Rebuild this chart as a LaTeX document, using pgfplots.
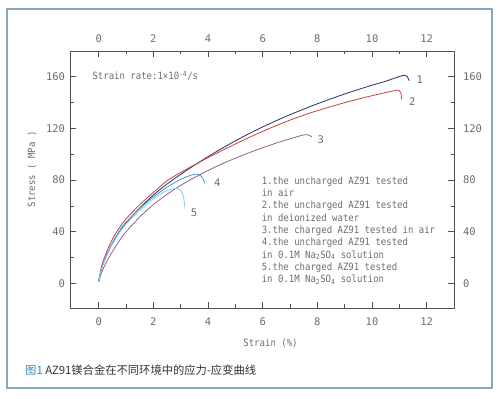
\documentclass[border=0pt]{standalone}
\usepackage{fontspec}
\setmainfont{DejaVu Sans}
\newfontfamily\cf[FakeStretch=0.9]{DejaVu Sans Mono}
\newfontfamily\tf{DejaVu Sans Mono}
\newfontfamily\cjk{Noto Sans CJK SC}
\usepackage{pgfplots}
\pgfplotsset{compat=1.18}
\definecolor{cnavy}{HTML}{2E2D6E}
\definecolor{cred}{HTML}{C2453F}
\definecolor{cpurp}{HTML}{94628F}
\definecolor{cblue}{HTML}{3A9CC8}
\definecolor{clblue}{HTML}{8CCDE6}
\definecolor{tgray}{HTML}{6E6E6E}
\definecolor{agray}{HTML}{505050}
\definecolor{frame}{HTML}{86AABB}
\definecolor{capblue}{HTML}{2F8FB5}
\pgfplotsset{
  base/.style={
    at={(70bp,91bp)}, anchor=south west, scale only axis,
    width=384bp, height=257bp,
    xmin=-1.05, xmax=13, ymin=-19, ymax=180,
    xtick={0,2,...,12}, ytick={0,40,...,160},
    minor xtick={1,3,...,11}, minor ytick={20,60,100,140},
    tick align=inside, tick pos=both,
    major tick length=6bp, minor tick length=3.5bp,
    axis line style={agray, line width=0.8bp},
    every tick/.style={agray, line width=0.8bp},
    /pgf/number format/assume math mode=true,
    ticklabel style={font=\tf\fontsize{10.5bp}{12bp}\selectfont, text=tgray},
  }
}
\begin{document}
\begin{tikzpicture}
\path[use as bounding box] (0,0) rectangle (500bp,399bp);
\fill[white] (0,0) rectangle (500bp,399bp);
\draw[frame, line width=1.8bp] (6.7bp,11bp) rectangle (491.7bp,389.7bp);
\begin{axis}[base,
  xticklabel pos=lower, yticklabel pos=left,
  xticklabel style={yshift=-6bp}, yticklabel style={xshift=-1.5bp},
  clip=false]
\addplot[cnavy, line width=0.8bp, smooth, tension=0.4] coordinates {
(0,1.5) (0.1,11.5) (0.2,17.5) (0.4,27) (0.6,35) (0.8,41.5) (1.0,47) (1.5,58.5) (2.0,68.5) (2.5,77) (3.0,84.5) (3.5,91.5) (4.0,98.2) (4.5,104.5) (5.0,110.4) (5.5,116) (6.0,121.2) (6.5,126.1) (7.0,130.7) (7.5,135) (8.0,139.1) (8.5,143) (9.0,146.7) (9.5,150.2) (10.0,153.5) (10.5,156.6) (10.9,159.5) (11.1,160.9) (11.2,161.2) (11.29,160.3) (11.36,157)};
\addplot[cred, line width=0.8bp, smooth, tension=0.4] coordinates {
(0,1.5) (0.1,13) (0.2,19.5) (0.4,30) (0.6,38) (0.8,44.5) (1.0,50) (1.5,61) (2.0,70.5) (2.5,79.5) (3.0,86) (3.5,91.8) (4.0,97.4) (4.5,102.8) (5.0,108) (5.5,113) (6.0,117.8) (6.5,122.3) (7.0,126.5) (7.5,130.3) (8.0,133.8) (8.5,137) (9.0,140) (9.5,142.8) (10.0,145.4) (10.5,147.8) (10.85,149.4) (10.98,149.6) (11.05,148) (11.09,142.5)};
\addplot[cpurp, line width=0.8bp, smooth, tension=0.4] coordinates {
(0,1.5) (0.1,8) (0.2,13) (0.4,21) (0.6,28) (0.8,34.5) (1.0,40) (1.5,51.5) (2.0,61) (2.5,69) (3.0,76) (3.5,82) (4.0,87.5) (4.5,92.5) (5.0,97) (5.5,101.2) (6.0,105.1) (6.5,108.7) (7.0,112) (7.3,113.9) (7.55,115.2) (7.68,114.9) (7.8,113.5)};
\addplot[cblue, line width=0.8bp, smooth, tension=0.4] coordinates {
(0,1.5) (0.1,11) (0.2,17) (0.4,27) (0.6,35) (0.8,42) (1.0,47.5) (1.5,58) (2.0,67) (2.5,74.5) (2.9,79.5) (3.2,82.5) (3.45,84.2) (3.6,84.6) (3.72,83.6) (3.82,81) (3.88,77.5)};
\addplot[clblue, line width=0.8bp, smooth, tension=0.4] coordinates {
(0,1.5) (0.1,11) (0.2,17) (0.4,26.5) (0.6,34) (0.8,40.5) (1.0,46) (1.5,56.5) (2.0,65.5) (2.4,71) (2.65,73) (2.85,73.6) (2.98,72.5) (3.07,69.5) (3.12,65) (3.16,58)};
\begin{scope}[every node/.style={font=\tf\fontsize{10.5bp}{12bp}\selectfont, text=tgray}]
\node at (axis cs:11.75,158) {1};
\node at (axis cs:11.47,140.7) {2};
\node at (axis cs:8.13,111.5) {3};
\node at (axis cs:4.34,78) {4};
\node at (axis cs:3.49,54.7) {5};
\end{scope}
\node[anchor=north west, align=left, inner sep=0pt, text=tgray,
  font=\cf\fontsize{10bp}{12.3bp}\selectfont] at (axis cs:5.96,82.8)
 {1.the uncharged AZ91 tested\\in air\\2.the uncharged AZ91 tested\\in deionized water\\3.the charged AZ91 tested in air\\4.the uncharged AZ91 tested\\in 0.1M Na\textsubscript{2}SO\textsubscript{4} solution\\5.the charged AZ91 tested\\in 0.1M Na\textsubscript{2}SO\textsubscript{4} solution};
\end{axis}
\begin{axis}[base,
  xticklabel pos=upper, yticklabel pos=right,
  xticklabel style={yshift=4.5bp}, yticklabel style={xshift=5.5bp}]
\addplot[draw=none] coordinates {(0,0)};
\end{axis}
\node[anchor=west, inner sep=0pt, text=tgray, font=\cf\fontsize{10bp}{12bp}\selectfont]
  at (92.3bp,323bp) {Strain rate:1×10\textsuperscript{-4}/s};
\node[rotate=90, inner sep=0pt, text=tgray, font=\cf\fontsize{10bp}{12bp}\selectfont]
  at (32bp,229.6bp) {Stress ( MPa )};
\node[inner sep=0pt, text=tgray, font=\cf\fontsize{10bp}{12bp}\selectfont]
  at (270.5bp,56bp) {Strain (\%)};
\node[anchor=west, inner sep=0pt, font=\cjk\fontsize{11.3bp}{13bp}\selectfont, text=black!80]
  at (25bp,29bp) {\textcolor{capblue}{图1} AZ91镁合金在不同环境中的应力-应变曲线};
\end{tikzpicture}
\end{document}
